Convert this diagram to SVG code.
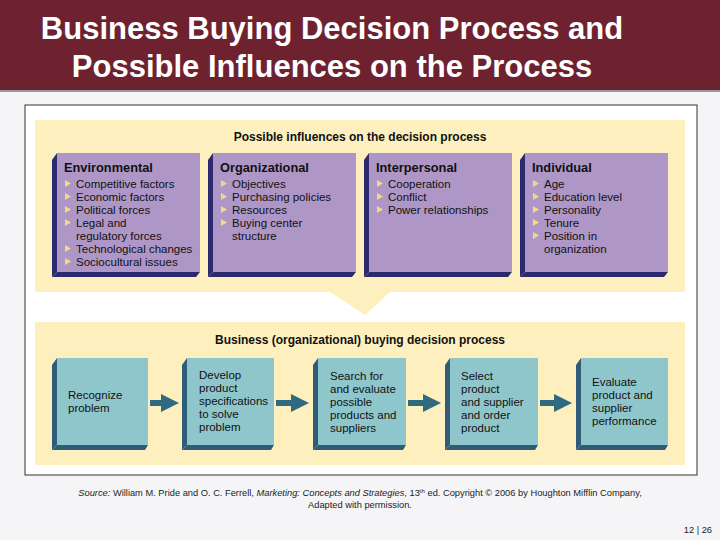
<svg xmlns="http://www.w3.org/2000/svg" width="720" height="540" viewBox="0 0 720 540">
<style>
.t{font-family:"Liberation Sans",Arial,sans-serif;font-weight:bold;fill:#fff;font-size:31px}
.h{font-family:"Liberation Sans",Arial,sans-serif;font-weight:bold;font-size:12.8px;fill:#111}
.hh{font-family:"Liberation Sans",Arial,sans-serif;font-weight:bold;font-size:12px;fill:#111}
.b{font-family:"Liberation Sans",Arial,sans-serif;font-size:11.5px;fill:#111}
.p{fill:#AE97C6}.ps{fill:#2B2A6E}
.c{fill:#8FC6CC}.cs{fill:#2F5C78}
.bul{fill:#F2D98A}
.s{font-family:"Liberation Sans",Arial,sans-serif;font-size:9.3px;fill:#222}
</style>
<defs>
<polygon id="bl" points="0,0 6,3.5 0,7" class="bul"/>
<marker id="ar" viewBox="0 0 10 10" refX="5" refY="5" markerWidth="3" markerHeight="3" orient="auto"><path d="M0,0L10,5L0,10z" fill="#2F6A80"/></marker>
</defs>
<rect width="720" height="540" fill="#F5F5F7"/>
<rect width="720" height="90" fill="#6E2230"/>
<rect y="90" width="720" height="2" fill="#999"/>
<text class="t" x="332" y="39" text-anchor="middle">Business Buying Decision Process and</text>
<text class="t" x="332" y="77" text-anchor="middle">Possible Influences on the Process</text>
<rect x="25" y="105" width="672" height="370" fill="#fff" stroke="#333" stroke-width="1"/>
<path d="M35,120H685V292H390L365,315L330,292H35Z" fill="#FDF0BE"/>
<rect x="35" y="322" width="650" height="143" fill="#FDF0BE"/>
<text class="hh" x="360" y="141" text-anchor="middle">Possible influences on the decision process</text>
<text class="hh" x="360" y="344" text-anchor="middle">Business (organizational) buying decision process</text>
<g id="environmental">
<rect x="57" y="153" width="143" height="119" class="p"/><path d="M52,160L57,153V272L52,277Z" class="ps"/><path d="M52,277L57,272H200L196,277Z" class="ps"/>
<text class="h" x="64" y="172">Environmental</text>
<use href="#bl" x="65" y="180"/><text class="b" x="76" y="188">Competitive factors</text>
<use href="#bl" x="65" y="193"/><text class="b" x="76" y="201">Economic factors</text>
<use href="#bl" x="65" y="206"/><text class="b" x="76" y="214">Political forces</text>
<use href="#bl" x="65" y="219"/><text class="b" x="76" y="227">Legal and</text>
<text class="b" x="76" y="240">regulatory forces</text>
<use href="#bl" x="65" y="245"/><text class="b" x="76" y="253">Technological changes</text>
<use href="#bl" x="65" y="258"/><text class="b" x="76" y="266">Sociocultural issues</text>
</g>
<g id="organizational">
<rect x="213" y="153" width="143" height="119" class="p"/><path d="M208,160L213,153V272L208,277Z" class="ps"/><path d="M208,277L213,272H356L352,277Z" class="ps"/>
<text class="h" x="220" y="172">Organizational</text>
<use href="#bl" x="221" y="180"/><text class="b" x="232" y="188">Objectives</text>
<use href="#bl" x="221" y="193"/><text class="b" x="232" y="201">Purchasing policies</text>
<use href="#bl" x="221" y="206"/><text class="b" x="232" y="214">Resources</text>
<use href="#bl" x="221" y="219"/><text class="b" x="232" y="227">Buying center</text>
<text class="b" x="232" y="240">structure</text>
</g>
<g id="interpersonal">
<rect x="369" y="153" width="143" height="119" class="p"/><path d="M364,160L369,153V272L364,277Z" class="ps"/><path d="M364,277L369,272H512L508,277Z" class="ps"/>
<text class="h" x="376" y="172">Interpersonal</text>
<use href="#bl" x="377" y="180"/><text class="b" x="388" y="188">Cooperation</text>
<use href="#bl" x="377" y="193"/><text class="b" x="388" y="201">Conflict</text>
<use href="#bl" x="377" y="206"/><text class="b" x="388" y="214">Power relationships</text>
</g>
<g id="individual">
<rect x="525" y="153" width="143" height="119" class="p"/><path d="M520,160L525,153V272L520,277Z" class="ps"/><path d="M520,277L525,272H668L664,277Z" class="ps"/>
<text class="h" x="532" y="172">Individual</text>
<use href="#bl" x="533" y="180"/><text class="b" x="544" y="188">Age</text>
<use href="#bl" x="533" y="193"/><text class="b" x="544" y="201">Education level</text>
<use href="#bl" x="533" y="206"/><text class="b" x="544" y="214">Personality</text>
<use href="#bl" x="533" y="219"/><text class="b" x="544" y="227">Tenure</text>
<use href="#bl" x="533" y="232"/><text class="b" x="544" y="240">Position in</text>
<text class="b" x="544" y="253">organization</text>
</g>
<g id="connectors" stroke="#2F6A80" stroke-width="6" marker-end="url(#ar)">
<line x1="150" y1="403" x2="170" y2="403"/>
<line x1="276" y1="403" x2="300" y2="403"/>
<line x1="408" y1="403" x2="432" y2="403"/>
<line x1="540" y1="403" x2="563" y2="403"/>
</g>
<g id="s1"><rect x="57" y="358" width="91" height="87" class="c"/><path d="M52,365L57,358V445L52,450Z" class="cs"/><path d="M52,450L57,445H148L145,450Z" class="cs"/>
<text class="b" x="68" y="399">Recognize</text><text class="b" x="68" y="412">problem</text></g>
<g id="s2"><rect x="187" y="358" width="87" height="87" class="c"/><path d="M182,365L187,358V445L182,450Z" class="cs"/><path d="M182,450L187,445H274L271,450Z" class="cs"/>
<text class="b" x="199" y="379">Develop</text><text class="b" x="199" y="392">product</text><text class="b" x="199" y="405">specifications</text><text class="b" x="199" y="418">to solve</text><text class="b" x="199" y="431">problem</text></g>
<g id="s3"><rect x="318" y="358" width="88" height="87" class="c"/><path d="M313,365L318,358V445L313,450Z" class="cs"/><path d="M313,450L318,445H406L403,450Z" class="cs"/>
<text class="b" x="330" y="380">Search for</text><text class="b" x="330" y="393">and evaluate</text><text class="b" x="330" y="406">possible</text><text class="b" x="330" y="419">products and</text><text class="b" x="330" y="432">suppliers</text></g>
<g id="s4"><rect x="450" y="358" width="88" height="87" class="c"/><path d="M445,365L450,358V445L445,450Z" class="cs"/><path d="M445,450L450,445H538L535,450Z" class="cs"/>
<text class="b" x="461" y="380">Select</text><text class="b" x="461" y="393">product</text><text class="b" x="461" y="406">and supplier</text><text class="b" x="461" y="419">and order</text><text class="b" x="461" y="432">product</text></g>
<g id="s5"><rect x="581" y="358" width="87" height="87" class="c"/><path d="M576,365L581,358V445L576,450Z" class="cs"/><path d="M576,450L581,445H668L665,450Z" class="cs"/>
<text class="b" x="592" y="386">Evaluate</text><text class="b" x="592" y="399">product and</text><text class="b" x="592" y="412">supplier</text><text class="b" x="592" y="425">performance</text></g>
<text class="s" x="360" y="496" text-anchor="middle"><tspan font-style="italic">Source:</tspan> William M. Pride and O. C. Ferrell, <tspan font-style="italic">Marketing: Concepts and Strategies</tspan>, 13<tspan font-size="6" dy="-3">th</tspan><tspan dy="3"> ed. Copyright © 2006 by Houghton Mifflin Company,</tspan></text>
<text class="s" x="360" y="508" text-anchor="middle">Adapted with permission.</text>
<text class="s" x="712" y="533" text-anchor="end">12 | 26</text>
</svg>
